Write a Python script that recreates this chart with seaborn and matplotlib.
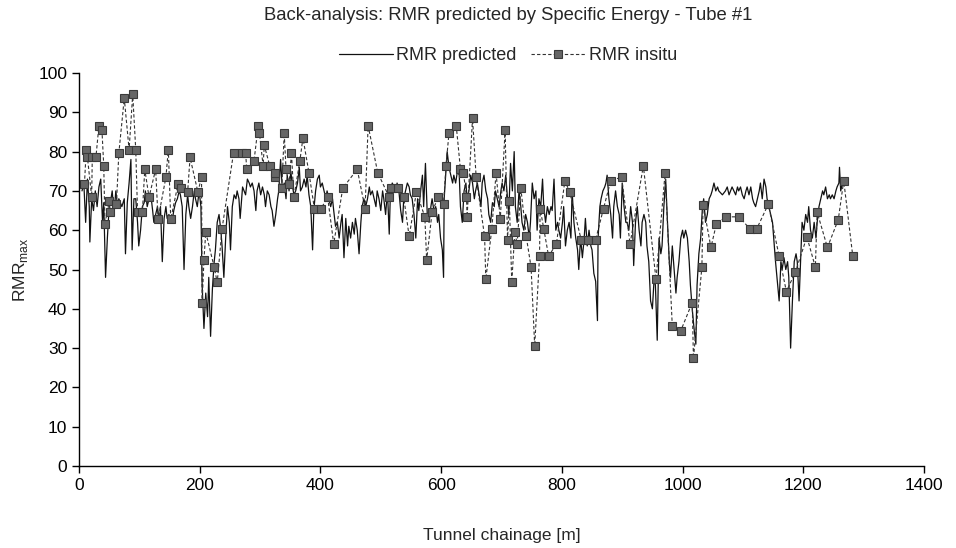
import matplotlib
matplotlib.use("Agg")
import matplotlib.pyplot as plt
import seaborn as sns
import pandas as pd

# ---- data: RMR predicted (solid line) ----
pred_x = [5, 8, 11, 14, 17, 18, 21, 24, 27, 30, 33, 36, 39, 41, 44, 47, 50, 52, 55, 58, 61, 64, 66, 71, 75, 77, 80, 83, 86, 88, 91, 94, 97, 99, 102, 105, 108, 110, 113, 116, 119, 122, 124, 127, 130, 133, 135, 138, 141, 144, 146, 149, 152, 155, 157, 160, 163, 166, 168, 171, 174, 177, 180, 182, 185, 188, 191, 193, 196, 199, 202, 204, 207, 210, 213, 215, 218, 221, 224, 226, 229, 232, 235, 237, 240, 243, 246, 249, 251, 254, 257, 260, 262,
          265, 267, 271, 276, 279, 282, 284, 287, 290, 293, 295, 298, 301, 304, 307, 309, 312, 315, 318, 320, 323, 326, 329, 331, 334, 337, 340, 343, 345, 348, 351, 353, 356, 359, 362, 365, 367, 370, 373, 376, 378, 381, 384, 387, 389, 392, 395, 398, 400, 403, 406, 409, 411, 414, 417, 420, 422, 425, 428, 431, 434, 436, 439, 442, 445, 447, 450, 453, 456, 458, 461, 464, 467, 469, 472, 475, 478, 481, 483, 486, 489, 492, 494, 497, 500, 503, 505, 508, 511, 514, 516, 519, 522, 525, 527,
          530, 533, 536, 538, 541, 544, 547, 549, 552, 555, 558, 561, 563, 566, 569, 571, 574, 577, 580, 583, 585, 588, 591, 594, 596, 599, 602, 604, 605, 608, 610, 613, 616, 619, 621, 624, 627, 630, 632, 635, 638, 641, 643, 646, 649, 652, 655, 657, 660, 663, 666, 668, 671, 674, 677, 679, 682, 685, 688, 690, 693, 696, 699, 701, 704, 707, 710, 712, 715, 718, 721, 723, 726, 729, 732, 734, 737, 740, 743, 746, 748, 751, 754, 757, 759, 762, 765, 768, 770, 773, 776, 779, 782, 784, 787, 790, 793,
          795, 798, 801, 803, 806, 809, 812, 815, 817, 820, 823, 826, 828, 831, 834, 837, 839, 842, 845, 848, 850, 853, 856, 859, 860, 863, 865, 868, 871, 873, 875, 878, 881, 884, 886, 889, 892, 895, 897, 900, 903, 906, 908, 911, 914, 917, 919, 922, 925, 928, 931, 933, 936, 939, 941, 944, 947, 950, 953, 955, 958, 961, 964, 966, 969, 972, 975, 978, 980, 983, 986, 989, 991, 994, 997, 1000, 1002, 1005, 1008, 1011, 1013, 1016, 1019, 1022, 1024, 1027, 1030, 1033, 1035, 1038, 1041, 1044, 1047, 1049, 1052, 1055, 1058,
          1060, 1066, 1071, 1074, 1077, 1082, 1085, 1088, 1091, 1093, 1096, 1099, 1102, 1105, 1107, 1110, 1113, 1116, 1118, 1121, 1124, 1127, 1129, 1132, 1135, 1138, 1140, 1143, 1146, 1149, 1151, 1154, 1157, 1160, 1163, 1165, 1168, 1171, 1174, 1176, 1179, 1182, 1185, 1188, 1190, 1193, 1196, 1198, 1201, 1204, 1207, 1209, 1212, 1215, 1218, 1221, 1223, 1226, 1229, 1232, 1234, 1237, 1240, 1243, 1245, 1248, 1251, 1254, 1256, 1259, 1260, 1262, 1265]
pred_y = [70, 72, 62, 73, 66, 57, 68, 65, 70, 66, 71, 73, 62, 67, 48, 58, 66, 67, 70, 64, 70, 66, 68, 66, 68, 54, 67, 72, 78, 55, 68, 68, 62, 56, 60, 66, 67, 70, 66, 68, 69, 65, 62, 64, 66, 62, 66, 52, 63, 66, 63, 64, 62, 63, 65, 67, 68, 70, 69, 66, 50, 64, 69, 66, 63, 66, 70, 68, 66, 70, 66, 46, 35, 44, 38, 48, 33, 45, 52, 55, 62, 64, 60, 56, 48, 58, 66, 62, 55, 66, 69, 68, 70,
          68, 63, 71, 69, 73, 72, 71, 72, 70, 65, 70, 72, 69, 71, 69, 66, 70, 69, 66, 65, 61, 64, 68, 70, 78, 70, 72, 68, 74, 70, 75, 72, 69, 70, 72, 76, 70, 71, 73, 71, 74, 69, 66, 55, 65, 70, 73, 74, 71, 72, 70, 68, 70, 68, 66, 68, 65, 61, 62, 58, 62, 64, 53, 63, 56, 61, 58, 62, 59, 63, 60, 54, 62, 66, 68, 66, 68, 71, 69, 70, 68, 66, 70, 68, 65, 70, 68, 64, 70, 59, 70, 72, 71, 70, 72,
          70, 65, 62, 68, 70, 72, 71, 69, 68, 64, 58, 68, 65, 70, 74, 66, 77, 64, 62, 66, 68, 65, 66, 62, 64, 58, 55, 48, 68, 75, 80, 76, 74, 72, 74, 72, 75, 74, 66, 62, 70, 72, 68, 70, 74, 72, 68, 70, 72, 69, 66, 72, 74, 70, 68, 64, 62, 67, 66, 70, 68, 66, 70, 72, 70, 74, 68, 64, 77, 70, 80, 66, 62, 70, 66, 62, 60, 64, 62, 58, 62, 72, 68, 70, 60, 68, 66, 73, 66, 62, 66, 64, 66, 65, 73, 60, 62,
          60, 58, 62, 66, 56, 60, 62, 58, 70, 62, 58, 55, 50, 58, 53, 58, 63, 56, 60, 56, 55, 49, 47, 37, 58, 66, 68, 70, 71, 72, 74, 68, 64, 58, 66, 70, 66, 64, 58, 72, 66, 62, 62, 60, 66, 62, 51, 62, 66, 60, 56, 62, 64, 62, 56, 52, 42, 40, 48, 46, 32, 58, 54, 56, 66, 73, 62, 52, 48, 56, 50, 44, 48, 52, 58, 60, 58, 60, 58, 52, 46, 40, 35, 31, 46, 54, 58, 66, 68, 62, 64, 68, 69, 70, 72, 70, 71,
          70, 69, 70, 71, 69, 71, 70, 69, 71, 70, 71, 69, 68, 70, 71, 69, 71, 68, 67, 66, 68, 70, 72, 68, 73, 71, 68, 66, 64, 62, 58, 52, 47, 42, 52, 50, 53, 50, 52, 48, 30, 42, 52, 54, 52, 42, 54, 62, 60, 64, 62, 66, 60, 58, 62, 58, 62, 66, 68, 70, 69, 71, 68, 69, 68, 69, 68, 70, 71, 72, 76, 70, 72]

# ---- data: RMR insitu (dashed line with squares) ----
insitu_x = [9, 12, 14, 21, 22, 28, 33, 38, 41, 43, 50, 52, 62, 66, 75, 83, 89, 94, 97, 105, 109, 116, 127, 131, 144, 148, 152, 164, 169, 180, 184, 197, 203, 204, 207, 210, 224, 229, 237, 256, 270, 276, 278, 290, 297, 299, 305, 307, 316, 324, 325, 336, 340, 343, 348, 352, 356, 366, 371, 381, 390, 401, 412, 422, 437, 461, 474, 479, 495, 514, 517, 529, 538, 547, 559, 573, 576, 585, 595, 604, 608, 613, 625, 632, 637, 642, 643, 652, 658, 672, 674, 684, 691, 698, 706, 710, 713, 717, 722, 726, 732, 741, 749, 755, 763, 764, 770, 778, 791, 805, 813, 832, 844, 856, 869, 881, 899, 913, 935, 956, 971, 983, 997, 1016, 1018, 1032, 1034, 1047, 1056, 1072, 1094, 1111, 1123, 1142, 1160, 1172, 1187, 1206, 1220, 1223, 1240, 1258, 1267, 1282]
insitu_y = [71.7, 80.4, 78.5, 68.5, 78.5, 78.5, 86.6, 85.5, 76.4, 61.6, 67.4, 64.6, 66.6, 79.6, 93.6, 80.5, 94.6, 80.5, 64.6, 64.6, 75.5, 68.4, 75.5, 62.8, 73.5, 80.5, 62.8, 71.7, 70.7, 69.7, 78.5, 69.7, 73.5, 41.6, 52.4, 59.5, 50.6, 46.7, 60.4, 79.6, 79.6, 79.6, 75.5, 77.7, 86.6, 84.7, 76.4, 81.6, 76.4, 73.5, 74.6, 70.7, 84.7, 75.5, 71.7, 79.6, 68.4, 77.7, 83.5, 74.6, 65.5, 65.5, 68.4, 56.5, 70.7, 75.5, 65.5, 86.6, 74.6, 68.4, 70.7, 70.7, 68.4, 58.4, 69.7, 63.4, 52.4, 64.6, 68.4, 66.6, 76.4, 84.7, 86.6, 75.5, 74.6, 68.4, 63.4, 88.5, 73.5, 58.4, 47.5, 60.4, 74.6, 62.8, 85.5, 57.6, 67.4, 46.7, 59.5, 56.5, 70.7, 58.4, 50.6, 30.5, 53.4, 65.5, 60.4, 53.4, 56.5, 72.6, 69.7, 57.6, 57.6, 57.6, 65.5, 72.6, 73.5, 56.5, 76.4, 47.5, 74.5, 35.5, 34.4, 41.6, 27.4, 50.6, 66.5, 55.6, 61.6, 63.4, 63.4, 60.4, 60.4, 66.6, 53.4, 44.4, 49.4, 58.3, 50.6, 64.6, 55.6, 62.7, 72.6, 53.4]

title = "Back-analysis: RMR predicted by Specific Energy - Tube #1"
x_ticks = [0, 200, 400, 600, 800, 1000, 1200, 1400]
y_ticks = [0, 10, 20, 30, 40, 50, 60, 70, 80, 90, 100]

sns.set_theme(style="white")
plt.rcParams['font.family'] = ['Liberation Sans', 'DejaVu Sans']

df_pred = pd.DataFrame({"x": pred_x, "y": pred_y})
df_ins = pd.DataFrame({"x": insitu_x, "y": insitu_y})

fig = plt.figure(figsize=(9.56, 5.48), dpi=100)
ax = fig.add_axes([79/956, 1-466/548, (924-79)/956, (466-73)/548])

sns.lineplot(data=df_pred, x="x", y="y", ax=ax, sort=False, estimator=None,
             color="#111111", linewidth=0.9, label="RMR predicted")
sns.lineplot(data=df_ins, x="x", y="y", ax=ax, sort=False, estimator=None,
             color="#333333", linewidth=0.8, linestyle=(0, (3, 2)),
             marker="s", markersize=5.3, markerfacecolor="#666666",
             markeredgecolor="#3a3a3a", markeredgewidth=0.8, label="RMR insitu")

ax.set_xlim(0, 1400)
ax.set_ylim(0, 100)
ax.set_xticks(x_ticks)
ax.set_yticks(y_ticks)
ax.tick_params(axis='both', labelsize=12.5, colors='black', direction='out',
               length=5, width=1, left=True, bottom=True)
for s in ['top', 'right']:
    ax.spines[s].set_visible(False)
for s in ['left', 'bottom']:
    ax.spines[s].set_color('black')
    ax.spines[s].set_linewidth(1.0)

ax.set_xlabel("Tunnel chainage [m]", fontsize=12.5, labelpad=25)
ax.set_ylabel("RMR$_{\\mathregular{max}}$", fontsize=12.5, labelpad=6)

fig.text(508/956, 1-15/548, title, ha='center', va='center', fontsize=13.3)
ax.legend(loc='center', bbox_to_anchor=(508/956, 1-56/548),
          bbox_transform=fig.transFigure, ncol=2, frameon=False,
          fontsize=13, handlelength=3.0, columnspacing=0.8, handletextpad=0.2)

fig.savefig("out.png", dpi=100)
